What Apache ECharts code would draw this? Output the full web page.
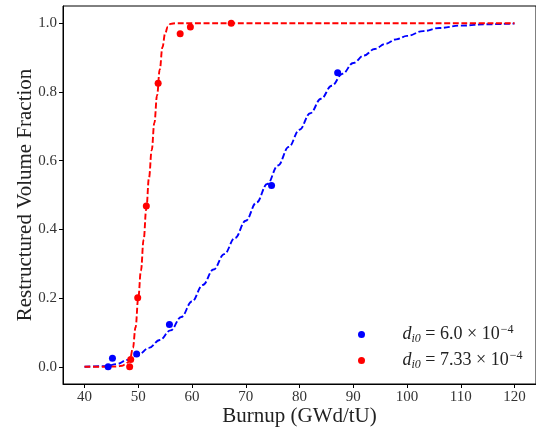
<!DOCTYPE html>
<html>
<head>
<meta charset="utf-8">
<script src="https://cdn.jsdelivr.net/npm/echarts@6/dist/echarts.min.js"></script>
<style>
  html, body { margin: 0; padding: 0; background: #fff; }
  #chart-box { width: 536px; height: 435px; }
</style>
</head>
<body>
<div id="chart-box"></div>
<script>
// measured points
var blueX = [44.4, 45.2, 49.7, 55.8, 74.8, 87.1];
var blueY = [0.0, 0.025, 0.037, 0.123, 0.528, 0.856];
var redX = [48.4, 48.6, 49.9, 51.5, 53.7, 57.8, 59.7, 67.3];
var redY = [0.0, 0.021, 0.201, 0.468, 0.825, 0.969, 0.989, 1.0];

// fitted curves
var blueFitX = [40, 44, 46, 48, 50, 52, 54, 56, 58, 60, 62, 64, 66, 68, 70, 72, 74, 76, 78, 80, 82, 84, 86, 88, 90, 92, 94, 96, 98, 100, 103, 106, 110, 115, 120];
var blueFitY = [0, 0.002, 0.008, 0.02, 0.035, 0.055, 0.078, 0.106, 0.145, 0.19, 0.238, 0.283, 0.328, 0.375, 0.425, 0.478, 0.532, 0.586, 0.64, 0.69, 0.738, 0.78, 0.818, 0.853, 0.884, 0.906, 0.925, 0.94, 0.953, 0.963, 0.977, 0.986, 0.993, 0.997, 0.999];
var redFitX = [40, 44, 46, 47, 47.5, 48, 48.5, 49, 49.5, 50, 50.5, 51, 51.5, 52, 52.5, 53, 53.5, 54, 54.5, 55, 55.5, 56, 57, 60, 70, 80, 90, 100, 110, 120];
var redFitY = [0, 0, 0.001, 0.003, 0.006, 0.012, 0.025, 0.055, 0.115, 0.2, 0.28, 0.37, 0.46, 0.55, 0.63, 0.71, 0.79, 0.865, 0.93, 0.97, 0.99, 0.998, 1, 1, 1, 1, 1, 1, 1, 1];

var xTicks = [40, 50, 60, 70, 80, 90, 100, 110, 120];
var yTicks = [0, 0.2, 0.4, 0.6, 0.8, 1.0];

var legendLabels = {
  blue: { value: '6.0', exp: '−4' },
  red: { value: '7.33', exp: '−4' }
};

function pairs(xs, ys) {
  var out = [];
  for (var i = 0; i < xs.length; i++) out.push([xs[i], ys[i]]);
  return out;
}

var serif = 'Liberation Serif';
var dash = [6, 2.6];

var chartObj = echarts.init(document.getElementById('chart-box'));
var option = {
  animation: false,
  grid: {
    left: 63,
    right: -3,
    top: 6,
    bottom: 51,
    show: true,
    borderColor: '#000',
    borderWidth: 1,
    backgroundColor: 'transparent'
  },
  legend: {
    orient: 'vertical',
    left: 353,
    top: 319,
    itemWidth: 40,
    itemHeight: 7,
    itemGap: 5,
    icon: 'circle',
    data: ['blue', 'red'],
    formatter: function (name) {
      var l = legendLabels[name];
      return '{it|d}{sub|i0}{n| = ' + l.value + ' × 10}{sup|' + l.exp + '}';
    },
    textStyle: {
      color: '#222',
      fontFamily: serif,
      rich: {
        it: { fontFamily: serif, fontStyle: 'italic', fontSize: 18, lineHeight: 21, color: '#222', padding: [0, 0, 0, 16] },
        sub: { fontFamily: serif, fontStyle: 'italic', fontSize: 12, lineHeight: 12, padding: [9, 0, 0, 0], verticalAlign: 'top', color: '#222' },
        n: { fontFamily: serif, fontSize: 18, lineHeight: 21, color: '#222' },
        sup: { fontFamily: serif, fontSize: 12, lineHeight: 12, padding: [0, 0, 0, 1], verticalAlign: 'top', color: '#222' }
      }
    }
  },
  xAxis: {
    type: 'value',
    min: 36,
    max: 124,
    name: 'Burnup (GWd/tU)',
    nameLocation: 'middle',
    nameGap: 22,
    nameMoveOverlap: false,
    nameTextStyle: { fontFamily: serif, fontSize: 21, color: '#222' },
    axisLine: { onZero: false, lineStyle: { color: '#000', width: 1 } },
    axisTick: { show: true, length: 4, customValues: xTicks, lineStyle: { color: '#000' } },
    axisLabel: { customValues: xTicks, fontFamily: serif, fontSize: 15, color: '#333', margin: 6 },
    splitLine: { show: false }
  },
  yAxis: {
    type: 'value',
    min: -0.05,
    max: 1.05,
    name: 'Restructured Volume Fraction',
    nameLocation: 'middle',
    nameGap: 27,
    nameMoveOverlap: false,
    nameTextStyle: { fontFamily: serif, fontSize: 21, color: '#222' },
    axisLine: { show: true, onZero: false, lineStyle: { color: '#000', width: 1 } },
    axisTick: { show: true, length: 4, customValues: yTicks, lineStyle: { color: '#000' } },
    axisLabel: {
      customValues: yTicks,
      fontFamily: serif,
      fontSize: 15,
      color: '#333',
      margin: 6,
      formatter: function (v) { return v.toFixed(1); }
    },
    splitLine: { show: false }
  },
  series: [
    {
      name: 'blue',
      type: 'scatter',
      symbolSize: 7,
      itemStyle: { color: '#0000ff', opacity: 1 },
      data: pairs(blueX, blueY),
      z: 3
    },
    {
      name: 'red',
      type: 'scatter',
      symbolSize: 7,
      itemStyle: { color: '#ff0000', opacity: 1 },
      data: pairs(redX, redY),
      z: 3
    },
    {
      type: 'line',
      showSymbol: false,
      smooth: 0.4,
      smoothMonotone: 'x',
      lineStyle: { color: '#0000ff', width: 1.9, type: dash },
      data: pairs(blueFitX, blueFitY),
      z: 2
    },
    {
      type: 'line',
      showSymbol: false,
      smooth: 0.4,
      smoothMonotone: 'x',
      lineStyle: { color: '#ff0000', width: 1.9, type: dash },
      data: pairs(redFitX, redFitY),
      z: 2
    }
  ]
};
chartObj.setOption(option);
</script>
</body>
</html>
